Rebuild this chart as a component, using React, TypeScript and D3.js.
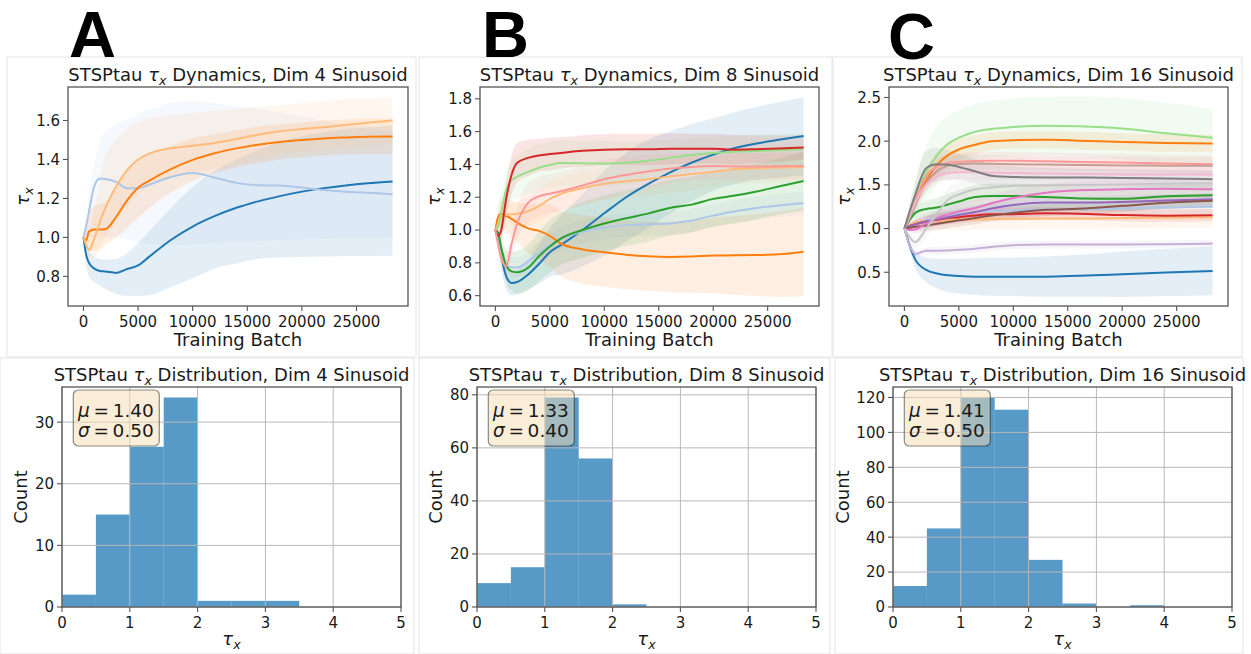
import React from "react";
import * as d3 from "d3";

// ---------- shared ----------
const TAB20 = ["#1f77b4", "#aec7e8", "#ff7f0e", "#ffbb78", "#2ca02c", "#98df8a", "#d62728", "#ff9896",
  "#9467bd", "#c5b0d5", "#8c564b", "#c49c94", "#e377c2", "#f7b6d2", "#7f7f7f", "#c7c7c7"];
const xTicksTop = [0, 5000, 10000, 15000, 20000, 25000];
const batchAB = [0, 250, 500, 1000, 1500, 2000, 3000, 4000, 5000, 6000, 8000, 10000, 12000, 14000, 16000, 18000, 20000, 22000, 24000, 26000, 28300];
const batchC = [0, 500, 1000, 2000, 3000, 4000, 5000, 6500, 8000, 10000, 13000, 16000, 20000, 24000, 28300];

// ---------- Panel A (Dim 4) ----------
const aBlue = [1.0, 0.91, 0.87, 0.84, 0.828, 0.825, 0.818, 0.838, 0.856, 0.9, 0.987, 1.056, 1.109, 1.152, 1.185, 1.212, 1.235, 1.253, 1.267, 1.278, 1.287];
const aBlueLo = [1.0, 0.86, 0.8, 0.77, 0.755, 0.735, 0.71, 0.7, 0.7, 0.703, 0.745, 0.79, 0.84, 0.868, 0.89, 0.897, 0.9, 0.902, 0.904, 0.905, 0.906];
const aBlueHi = [1.0, 0.95, 0.93, 0.9, 0.89, 0.885, 0.89, 0.92, 0.97, 1.03, 1.15, 1.26, 1.34, 1.4, 1.45, 1.49, 1.52, 1.54, 1.555, 1.565, 1.575];
const aLBlue = [1.0, 1.06, 1.13, 1.265, 1.303, 1.3, 1.285, 1.252, 1.252, 1.27, 1.31, 1.33, 1.307, 1.28, 1.268, 1.266, 1.256, 1.243, 1.235, 1.229, 1.222];
const aLBlueLo = [1.0, 1.0, 1.0, 1.0, 1.0, 1.0, 1.0, 0.99, 0.975, 0.965, 0.96, 0.965, 0.97, 0.975, 0.98, 0.985, 0.99, 0.993, 0.996, 0.998, 1.0];
const aLBlueHi = [1.0, 1.1, 1.22, 1.38, 1.5, 1.54, 1.58, 1.607, 1.635, 1.655, 1.688, 1.7, 1.69, 1.675, 1.66, 1.64, 1.62, 1.6, 1.58, 1.56, 1.54];
const aOrange = [1.0, 0.985, 1.03, 1.04, 1.04, 1.042, 1.106, 1.19, 1.255, 1.29, 1.35, 1.398, 1.432, 1.457, 1.476, 1.49, 1.5, 1.508, 1.513, 1.517, 1.518];
const aOrangeLo = [1.0, 0.96, 0.93, 0.93, 0.94, 0.96, 1.0, 1.05, 1.1, 1.15, 1.23, 1.29, 1.33, 1.36, 1.38, 1.4, 1.41, 1.42, 1.425, 1.427, 1.427];
const aOrangeHi = [1.0, 1.03, 1.12, 1.16, 1.17, 1.18, 1.25, 1.35, 1.4, 1.43, 1.47, 1.51, 1.53, 1.55, 1.57, 1.58, 1.59, 1.6, 1.605, 1.61, 1.61];
const aLOrange = [1.0, 0.96, 0.935, 0.995, 1.08, 1.15, 1.262, 1.345, 1.4, 1.43, 1.458, 1.47, 1.485, 1.505, 1.527, 1.545, 1.556, 1.566, 1.577, 1.589, 1.6];
const aLOrangeLo = [1.0, 0.95, 0.9, 0.9, 0.95, 1.0, 1.08, 1.16, 1.22, 1.26, 1.31, 1.33, 1.35, 1.37, 1.4, 1.42, 1.44, 1.45, 1.46, 1.47, 1.48];
const aLOrangeHi = [1.0, 1.0, 1.02, 1.15, 1.3, 1.42, 1.5, 1.56, 1.59, 1.61, 1.63, 1.64, 1.65, 1.66, 1.67, 1.68, 1.69, 1.7, 1.71, 1.715, 1.72];

// ---------- Panel B (Dim 8) ----------
const bBlue = [1.0, 0.93, 0.853, 0.716, 0.677, 0.683, 0.729, 0.793, 0.865, 0.908, 1.0, 1.102, 1.2, 1.28, 1.35, 1.41, 1.46, 1.5, 1.528, 1.55, 1.573];
const bBlueSp = [0, 0.04, 0.07, 0.08, 0.075, 0.075, 0.09, 0.12, 0.15, 0.18, 0.22, 0.26, 0.27, 0.27, 0.25, 0.235, 0.22, 0.22, 0.222, 0.23, 0.237];
const bLBlue = [1.0, 0.93, 0.85, 0.79, 0.772, 0.772, 0.81, 0.86, 0.91, 0.945, 0.99, 1.016, 1.03, 1.035, 1.04, 1.058, 1.088, 1.115, 1.135, 1.15, 1.163];
const bLBlueSp = [0, 0.03, 0.05, 0.06, 0.06, 0.06, 0.06, 0.07, 0.07, 0.07, 0.07, 0.07, 0.07, 0.07, 0.07, 0.07, 0.07, 0.07, 0.07, 0.07, 0.07];
const bOrange = [1.0, 1.08, 1.1, 1.085, 1.068, 1.045, 1.01, 0.995, 0.965, 0.918, 0.882, 0.865, 0.85, 0.84, 0.836, 0.838, 0.845, 0.846, 0.848, 0.852, 0.868];
const bOrangeSp = [0, 0.07, 0.09, 0.1, 0.11, 0.12, 0.15, 0.17, 0.19, 0.2, 0.21, 0.21, 0.21, 0.21, 0.215, 0.22, 0.23, 0.24, 0.25, 0.26, 0.27];
const bLOrange = [1.0, 1.04, 1.07, 1.095, 1.096, 1.1, 1.115, 1.146, 1.19, 1.22, 1.255, 1.282, 1.298, 1.31, 1.327, 1.342, 1.356, 1.37, 1.377, 1.381, 1.384];
const bLOrangeSp = [0, 0.03, 0.05, 0.06, 0.07, 0.08, 0.09, 0.1, 0.1, 0.1, 0.1, 0.1, 0.1, 0.1, 0.1, 0.1, 0.09, 0.09, 0.09, 0.09, 0.09];
const bGreen = [1.0, 0.984, 0.905, 0.78, 0.748, 0.742, 0.77, 0.84, 0.9, 0.948, 1.0, 1.04, 1.072, 1.1, 1.135, 1.155, 1.19, 1.21, 1.235, 1.265, 1.299];
const bGreenSp = [0, 0.03, 0.06, 0.1, 0.12, 0.13, 0.14, 0.15, 0.16, 0.16, 0.17, 0.17, 0.17, 0.17, 0.17, 0.17, 0.17, 0.17, 0.17, 0.17, 0.18];
const bLGreen = [1.0, 1.02, 1.1, 1.25, 1.305, 1.325, 1.355, 1.38, 1.397, 1.408, 1.407, 1.405, 1.41, 1.422, 1.44, 1.458, 1.47, 1.477, 1.482, 1.487, 1.492];
const bLGreenSp = [0, 0.04, 0.08, 0.1, 0.12, 0.13, 0.14, 0.14, 0.14, 0.14, 0.14, 0.14, 0.13, 0.12, 0.11, 0.1, 0.1, 0.1, 0.1, 0.1, 0.1];
const bRed = [1.0, 0.965, 0.99, 1.195, 1.34, 1.41, 1.44, 1.455, 1.463, 1.47, 1.483, 1.49, 1.492, 1.492, 1.495, 1.496, 1.496, 1.49, 1.493, 1.497, 1.504];
const bRedSp = [0, 0.03, 0.06, 0.1, 0.12, 0.12, 0.11, 0.1, 0.1, 0.095, 0.095, 0.095, 0.095, 0.095, 0.095, 0.09, 0.09, 0.09, 0.085, 0.08, 0.075];
const bLRed = [1.0, 0.91, 0.835, 0.78, 0.92, 1.04, 1.165, 1.205, 1.222, 1.236, 1.272, 1.31, 1.336, 1.357, 1.375, 1.385, 1.39, 1.388, 1.387, 1.389, 1.39];
const bLRedSp = [0, 0.03, 0.05, 0.06, 0.08, 0.1, 0.12, 0.12, 0.12, 0.12, 0.12, 0.12, 0.11, 0.1, 0.09, 0.08, 0.08, 0.08, 0.08, 0.08, 0.08];

// ---------- Panel C (Dim 16) ----------
const cBlue = [1.0, 0.8, 0.645, 0.527, 0.485, 0.465, 0.456, 0.45, 0.45, 0.45, 0.45, 0.46, 0.478, 0.498, 0.515];
const cBlueSp = [0, 0.05, 0.1, 0.14, 0.17, 0.19, 0.2, 0.21, 0.22, 0.22, 0.23, 0.24, 0.26, 0.27, 0.278];
const cLBlue = [1.0, 1.03, 1.06, 1.1, 1.13, 1.15, 1.17, 1.19, 1.2, 1.21, 1.22, 1.22, 1.23, 1.24, 1.25];
const cLBlueSp = [0, 0.03, 0.05, 0.07, 0.08, 0.08, 0.08, 0.08, 0.08, 0.08, 0.08, 0.08, 0.08, 0.08, 0.08];
const cOrange = [1.0, 1.15, 1.31, 1.55, 1.73, 1.84, 1.905, 1.96, 2.0, 2.012, 2.015, 2.006, 1.992, 1.978, 1.973];
const cOrangeSp = [0, 0.04, 0.08, 0.12, 0.14, 0.13, 0.12, 0.11, 0.1, 0.1, 0.1, 0.1, 0.1, 0.1, 0.1];
const cLOrange = [1.0, 1.04, 1.07, 1.085, 1.09, 1.095, 1.1, 1.105, 1.11, 1.113, 1.115, 1.115, 1.12, 1.125, 1.13];
const cLOrangeSp = [0, 0.04, 0.06, 0.08, 0.1, 0.11, 0.12, 0.12, 0.12, 0.12, 0.12, 0.12, 0.12, 0.12, 0.12];
const cGreen = [1.0, 1.1, 1.18, 1.225, 1.24, 1.275, 1.31, 1.36, 1.374, 1.374, 1.36, 1.345, 1.34, 1.37, 1.382];
const cGreenSp = [0, 0.03, 0.06, 0.09, 0.11, 0.12, 0.13, 0.14, 0.14, 0.14, 0.14, 0.14, 0.14, 0.14, 0.14];
const cLGreen = [1.0, 1.2, 1.38, 1.65, 1.84, 1.97, 2.04, 2.108, 2.14, 2.162, 2.176, 2.17, 2.145, 2.09, 2.04];
const cLGreenSp = [0, 0.1, 0.18, 0.3, 0.34, 0.32, 0.31, 0.32, 0.32, 0.33, 0.33, 0.34, 0.35, 0.35, 0.33];
const cRed = [1.0, 1.03, 1.05, 1.08, 1.1, 1.12, 1.13, 1.15, 1.163, 1.165, 1.175, 1.17, 1.155, 1.148, 1.153];
const cRedSp = [0, 0.03, 0.05, 0.06, 0.07, 0.07, 0.07, 0.07, 0.07, 0.07, 0.07, 0.07, 0.07, 0.07, 0.07];
const cLRed = [1.0, 1.15, 1.32, 1.6, 1.71, 1.75, 1.765, 1.772, 1.775, 1.775, 1.77, 1.763, 1.755, 1.745, 1.737];
const cLRedSp = [0, 0.04, 0.07, 0.09, 0.1, 0.1, 0.1, 0.1, 0.1, 0.1, 0.1, 0.1, 0.1, 0.1, 0.1];
const cPurple = [1.0, 1.03, 1.05, 1.08, 1.105, 1.13, 1.155, 1.19, 1.23, 1.27, 1.298, 1.298, 1.305, 1.32, 1.336];
const cPurpleSp = [0, 0.03, 0.05, 0.06, 0.07, 0.07, 0.07, 0.07, 0.07, 0.07, 0.07, 0.07, 0.07, 0.07, 0.07];
const cLPurple = [1.0, 0.8, 0.71, 0.745, 0.745, 0.75, 0.757, 0.77, 0.79, 0.81, 0.817, 0.817, 0.818, 0.822, 0.828];
const cLPurpleSp = [0, 0.03, 0.04, 0.04, 0.045, 0.045, 0.045, 0.045, 0.045, 0.045, 0.045, 0.045, 0.045, 0.045, 0.045];
const cBrown = [1.0, 1.01, 1.02, 1.035, 1.055, 1.075, 1.095, 1.12, 1.15, 1.18, 1.215, 1.227, 1.26, 1.295, 1.317];
const cBrownSp = [0, 0.03, 0.05, 0.06, 0.07, 0.07, 0.07, 0.07, 0.07, 0.07, 0.07, 0.07, 0.07, 0.07, 0.07];
const cLBrown = [1.0, 1.12, 1.27, 1.52, 1.66, 1.72, 1.74, 1.745, 1.742, 1.737, 1.733, 1.728, 1.722, 1.72, 1.718];
const cLBrownSp = [0, 0.05, 0.08, 0.1, 0.1, 0.1, 0.1, 0.1, 0.1, 0.1, 0.1, 0.1, 0.1, 0.1, 0.1];
const cPink = [1.0, 0.985, 0.99, 1.06, 1.12, 1.16, 1.195, 1.235, 1.29, 1.35, 1.41, 1.438, 1.45, 1.457, 1.45];
const cPinkSp = [0, 0.03, 0.05, 0.07, 0.08, 0.09, 0.1, 0.1, 0.1, 0.1, 0.1, 0.1, 0.1, 0.1, 0.1];
const cLPink = [1.0, 1.15, 1.3, 1.5, 1.6, 1.635, 1.645, 1.645, 1.64, 1.635, 1.63, 1.625, 1.62, 1.62, 1.62];
const cLPinkSp = [0, 0.04, 0.07, 0.08, 0.08, 0.08, 0.08, 0.08, 0.08, 0.08, 0.08, 0.08, 0.08, 0.08, 0.08];
const cGray = [1.0, 1.2, 1.39, 1.69, 1.735, 1.73, 1.705, 1.655, 1.605, 1.59, 1.585, 1.584, 1.58, 1.572, 1.565];
const cGraySp = [0, 0.08, 0.13, 0.2, 0.19, 0.17, 0.15, 0.14, 0.13, 0.12, 0.11, 0.1, 0.1, 0.1, 0.1];
const cLGray = [1.0, 0.9, 0.845, 1.0, 1.17, 1.33, 1.39, 1.45, 1.47, 1.49, 1.497, 1.5, 1.505, 1.515, 1.52];
const cLGraySp = [0, 0.04, 0.07, 0.1, 0.12, 0.13, 0.14, 0.14, 0.14, 0.14, 0.14, 0.14, 0.14, 0.14, 0.14];

// ---------- Histograms ----------
const binEdges = [0, 0.5, 1, 1.5, 2, 2.5, 3, 3.5, 4, 4.5, 5];
const countsA = [2, 15, 26, 34, 1, 1, 1, 0, 0, 0];
const countsB = [9, 15, 79, 56, 1, 0, 0, 0, 0, 0];
const countsC = [12, 45, 120, 113, 27, 2, 0, 1, 0, 0];
const histXTicks = [0, 1, 2, 3, 4, 5];
const histYTicksA = [0, 10, 20, 30];
const histYTicksB = [0, 20, 40, 60, 80];
const histYTicksC = [0, 20, 40, 60, 80, 100, 120];
const statsA = ["1.40", "0.50"];
const statsB = ["1.33", "0.40"];
const statsC = ["1.41", "0.50"];

const yTicksA = [0.8, 1.0, 1.2, 1.4, 1.6];
const yTicksB = [0.6, 0.8, 1.0, 1.2, 1.4, 1.6, 1.8];
const yTicksC = [0.5, 1.0, 1.5, 2.0, 2.5];

type Series = { color: string; mean: number[]; lo: number[]; hi: number[] };
const band = (color: string, mean: number[], lo: number[], hi: number[]): Series => ({ color, mean, lo, hi });
const spread = (color: string, mean: number[], sp: number[]): Series => ({
  color, mean, lo: mean.map((m, i) => m - sp[i]), hi: mean.map((m, i) => m + sp[i]),
});

const seriesA: Series[] = [
  band(TAB20[0], aBlue, aBlueLo, aBlueHi),
  band(TAB20[1], aLBlue, aLBlueLo, aLBlueHi),
  band(TAB20[2], aOrange, aOrangeLo, aOrangeHi),
  band(TAB20[3], aLOrange, aLOrangeLo, aLOrangeHi),
];
const seriesB: Series[] = [
  spread(TAB20[0], bBlue, bBlueSp), spread(TAB20[1], bLBlue, bLBlueSp),
  spread(TAB20[2], bOrange, bOrangeSp), spread(TAB20[3], bLOrange, bLOrangeSp),
  spread(TAB20[4], bGreen, bGreenSp), spread(TAB20[5], bLGreen, bLGreenSp),
  spread(TAB20[6], bRed, bRedSp), spread(TAB20[7], bLRed, bLRedSp),
];
const seriesC: Series[] = [
  spread(TAB20[0], cBlue, cBlueSp), spread(TAB20[1], cLBlue, cLBlueSp),
  spread(TAB20[2], cOrange, cOrangeSp), spread(TAB20[3], cLOrange, cLOrangeSp),
  spread(TAB20[4], cGreen, cGreenSp), spread(TAB20[5], cLGreen, cLGreenSp),
  spread(TAB20[6], cRed, cRedSp), spread(TAB20[7], cLRed, cLRedSp),
  spread(TAB20[8], cPurple, cPurpleSp), spread(TAB20[9], cLPurple, cLPurpleSp),
  spread(TAB20[10], cBrown, cBrownSp), spread(TAB20[11], cLBrown, cLBrownSp),
  spread(TAB20[12], cPink, cPinkSp), spread(TAB20[13], cLPink, cLPinkSp),
  spread(TAB20[14], cGray, cGraySp), spread(TAB20[15], cLGray, cLGraySp),
];

const FONT = "DejaVu Sans, Verdana, sans-serif";
const TXT = "#1a1a1a";
const SPINE = "#555";
const TICK_FS = 15;
const LABEL_FS = 18;
const STAT_FS = 18.5;
const THIN = "\u2009";

function TauX({ fs, after }: { fs: number; after?: string }) {
  const d = fs * 0.22;
  return (
    <>
      <tspan fontStyle="italic">τ</tspan>
      <tspan fontStyle="italic" fontSize={fs * 0.7} dy={d}>x</tspan>
      {after !== undefined ? <tspan dy={-d}>{after}</tspan> : null}
    </>
  );
}

type Box = { x0: number; x1: number; y0: number; y1: number };

function LinePanel({ id, box, t, yDomain, yTicks, series, dim, letter, letterX, letterY, frame, yLabelOff }: any) {
  const b: Box = box;
  const x = d3.scaleLinear().domain([-1415, 29715]).range([b.x0, b.x1]);
  const y = d3.scaleLinear().domain(yDomain).range([b.y1, b.y0]);
  const area = (s: Series) =>
    d3.area<number>().x((_, i) => x(t[i])).y0((_, i) => y(s.lo[i])).y1((_, i) => y(s.hi[i])).curve(d3.curveMonotoneX)(s.mean) || "";
  const line = (s: Series) =>
    d3.line<number>().x((_, i) => x(t[i])).y((v) => y(v)).curve(d3.curveMonotoneX)(s.mean) || "";
  const cx = (b.x0 + b.x1) / 2;
  const cy = (b.y0 + b.y1) / 2;
  return (
    <g>
      <rect x={frame[0]} y={frame[1]} width={frame[2]} height={frame[3]} fill="none" stroke="#e4e4e4" strokeWidth={1} />
      <text x={letterX} y={letterY} fontFamily="Liberation Sans, Arial, sans-serif" fontWeight="bold" fontSize={65} fill="#000">{letter}</text>
      <clipPath id={"clip" + id}>
        <rect x={b.x0} y={b.y0} width={b.x1 - b.x0} height={b.y1 - b.y0} />
      </clipPath>
      <g clipPath={`url(#clip${id})`}>
        {series.map((s: Series, i: number) => (
          <path key={"a" + i} d={area(s)} fill={s.color} fillOpacity={0.12} stroke="none" />
        ))}
        {series.map((s: Series, i: number) => (
          <path key={"l" + i} d={line(s)} fill="none" stroke={s.color} strokeWidth={2} strokeLinejoin="round" />
        ))}
      </g>
      <rect x={b.x0} y={b.y0} width={b.x1 - b.x0} height={b.y1 - b.y0} fill="none" stroke={SPINE} strokeWidth={1.3} />
      {xTicksTop.map((v) => (
        <g key={"xt" + v}>
          <line x1={x(v)} x2={x(v)} y1={b.y1} y2={b.y1 + 5} stroke={SPINE} strokeWidth={1.1} />
          <text x={x(v)} y={b.y1 + 21} textAnchor="middle" fontFamily={FONT} fontSize={TICK_FS} fill={TXT}>{v}</text>
        </g>
      ))}
      {yTicks.map((v: number) => (
        <g key={"yt" + v}>
          <line x1={b.x0 - 5} x2={b.x0} y1={y(v)} y2={y(v)} stroke={SPINE} strokeWidth={1.1} />
          <text x={b.x0 - 8} y={y(v)} dy="0.36em" textAnchor="end" fontFamily={FONT} fontSize={TICK_FS} fill={TXT}>{v.toFixed(1)}</text>
        </g>
      ))}
      <text x={cx} y={b.y0 - 6} textAnchor="middle" fontFamily={FONT} fontSize={LABEL_FS} fill={TXT}>
        {"STSPtau "}<TauX fs={LABEL_FS} after={` Dynamics, Dim ${dim} Sinusoid`} />
      </text>
      <text x={cx} y={b.y1 + 40} textAnchor="middle" fontFamily={FONT} fontSize={LABEL_FS} fill={TXT}>Training Batch</text>
      <text transform={`translate(${b.x0 - yLabelOff},${cy}) rotate(-90)`} textAnchor="middle" fontFamily={FONT} fontSize={LABEL_FS} fill={TXT} dy="0.35em">
        <TauX fs={LABEL_FS} />
      </text>
    </g>
  );
}

function HistPanel({ box, counts, yTicks, stats, dim, frame, yLabelOff }: any) {
  const b: Box = box;
  const x = d3.scaleLinear().domain([0, 5]).range([b.x0, b.x1]);
  const maxC = d3.max(counts as number[]) || 1;
  const y = d3.scaleLinear().domain([0, maxC * 1.05]).range([b.y1, b.y0]);
  const cx = (b.x0 + b.x1) / 2;
  const cy = (b.y0 + b.y1) / 2;
  return (
    <g>
      <rect x={frame[0]} y={frame[1]} width={frame[2]} height={frame[3]} fill="none" stroke="#e4e4e4" strokeWidth={1} />
      {(counts as number[]).map((c, i) =>
        c > 0 ? (
          <rect key={"b" + i} x={x(binEdges[i])} width={x(binEdges[i + 1]) - x(binEdges[i])} y={y(c)} height={y(0) - y(c)} fill="#1f77b4" fillOpacity={0.75} />
        ) : null
      )}
      {histXTicks.map((v) => (
        <line key={"gx" + v} x1={x(v)} x2={x(v)} y1={b.y0} y2={b.y1} stroke="#b8b8b8" strokeWidth={1} />
      ))}
      {yTicks.map((v: number) => (
        <line key={"gy" + v} x1={b.x0} x2={b.x1} y1={y(v)} y2={y(v)} stroke="#b8b8b8" strokeWidth={1} />
      ))}
      <rect x={b.x0} y={b.y0} width={b.x1 - b.x0} height={b.y1 - b.y0} fill="none" stroke={SPINE} strokeWidth={1.3} />
      {histXTicks.map((v) => (
        <g key={"xt" + v}>
          <line x1={x(v)} x2={x(v)} y1={b.y1} y2={b.y1 + 5} stroke={SPINE} strokeWidth={1.1} />
          <text x={x(v)} y={b.y1 + 21} textAnchor="middle" fontFamily={FONT} fontSize={TICK_FS} fill={TXT}>{v}</text>
        </g>
      ))}
      {yTicks.map((v: number) => (
        <g key={"yt" + v}>
          <line x1={b.x0 - 5} x2={b.x0} y1={y(v)} y2={y(v)} stroke={SPINE} strokeWidth={1.1} />
          <text x={b.x0 - 8} y={y(v)} dy="0.36em" textAnchor="end" fontFamily={FONT} fontSize={TICK_FS} fill={TXT}>{v}</text>
        </g>
      ))}
      <rect x={b.x0 + 11.3} y={b.y0 + 3} width={86} height={56} rx={5} fill="#f5deb3" fillOpacity={0.5} stroke="#000" strokeOpacity={0.45} strokeWidth={1.2} />
      <text x={b.x0 + 16} y={b.y0 + 30} fontFamily={FONT} fontSize={STAT_FS} fill={TXT}>
        <tspan fontStyle="italic">μ</tspan>{THIN + "=" + THIN + stats[0]}
      </text>
      <text x={b.x0 + 16} y={b.y0 + 50} fontFamily={FONT} fontSize={STAT_FS} fill={TXT}>
        <tspan fontStyle="italic">σ</tspan>{THIN + "=" + THIN + stats[1]}
      </text>
      <text x={cx} y={b.y0 - 6} textAnchor="middle" fontFamily={FONT} fontSize={LABEL_FS} fill={TXT}>
        {"STSPtau "}<TauX fs={LABEL_FS} after={` Distribution, Dim ${dim} Sinusoid`} />
      </text>
      <text x={cx} y={b.y1 + 38} textAnchor="middle" fontFamily={FONT} fontSize={LABEL_FS} fill={TXT}>
        <TauX fs={LABEL_FS} />
      </text>
      <text transform={`translate(${b.x0 - yLabelOff},${cy}) rotate(-90)`} textAnchor="middle" fontFamily={FONT} fontSize={LABEL_FS} fill={TXT} dy="0.35em">Count</text>
    </g>
  );
}

export default function App() {
  return (
    <div style={{ position: "absolute", left: 0, top: 0, width: 1251, height: 654, background: "#fff" }}>
      <svg width={1251} height={654} viewBox="0 0 1251 654" style={{ display: "block" }}>
        <rect x={0} y={0} width={1251} height={654} fill="#fff" />
        <LinePanel id="A" box={{ x0: 68, x1: 408, y0: 87, y1: 306 }} t={batchAB} yDomain={[0.648, 1.772]} yTicks={yTicksA}
          series={seriesA} dim={4} letter="A" letterX={69} letterY={57} frame={[7, 57, 409, 300]} yLabelOff={45} />
        <LinePanel id="B" box={{ x0: 480, x1: 819, y0: 87, y1: 306 }} t={batchAB} yDomain={[0.537, 1.872]} yTicks={yTicksB}
          series={seriesB} dim={8} letter="B" letterX={482} letterY={57} frame={[419, 57, 413, 300]} yLabelOff={46} />
        <LinePanel id="C" box={{ x0: 889, x1: 1228, y0: 87, y1: 306 }} t={batchC} yDomain={[0.114, 2.62]} yTicks={yTicksC}
          series={seriesC} dim={16} letter="C" letterX={888} letterY={58.5} frame={[833, 57, 409, 300]} yLabelOff={45} />
        <HistPanel box={{ x0: 62, x1: 401, y0: 387, y1: 607 }} counts={countsA} yTicks={histYTicksA} stats={statsA} dim={4}
          frame={[0, 358, 414, 296]} yLabelOff={41} />
        <HistPanel box={{ x0: 477, x1: 816, y0: 387, y1: 607 }} counts={countsB} yTicks={histYTicksB} stats={statsB} dim={8}
          frame={[419, 358, 411, 296]} yLabelOff={41} />
        <HistPanel box={{ x0: 893, x1: 1232, y0: 387, y1: 607 }} counts={countsC} yTicks={histYTicksC} stats={statsC} dim={16}
          frame={[835, 358, 408, 296]} yLabelOff={50} />
      </svg>
    </div>
  );
}
